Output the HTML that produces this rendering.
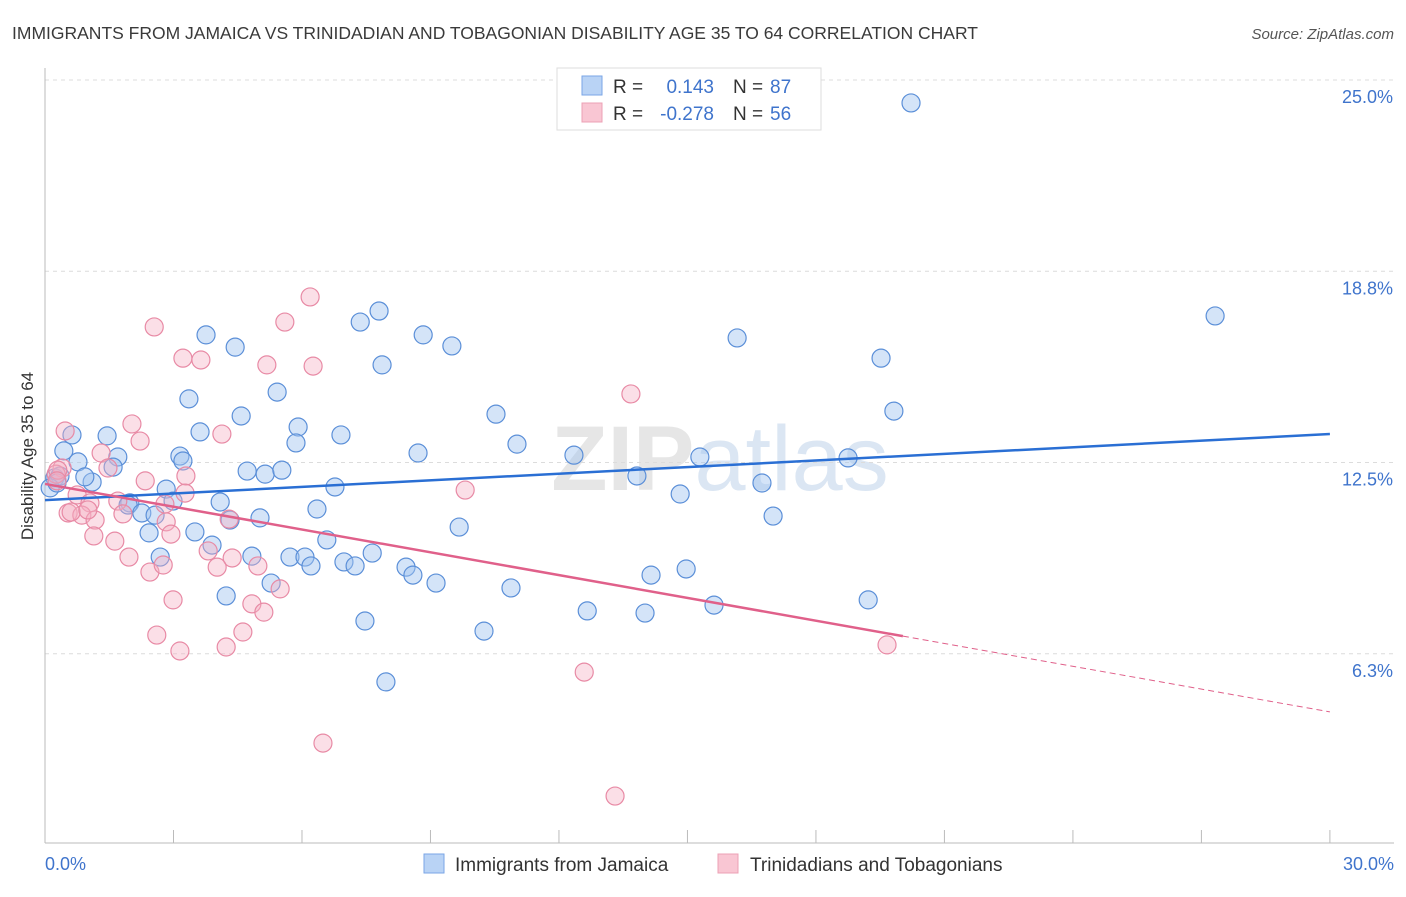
<!DOCTYPE html>
<html><head><meta charset="utf-8"><style>
body{margin:0;background:#fff;font-family:"Liberation Sans",sans-serif;}
svg text{font-family:"Liberation Sans",sans-serif;}
</style></head><body>
<svg width="1406" height="892" viewBox="0 0 1406 892" xmlns="http://www.w3.org/2000/svg">
<text x="12" y="39" font-size="17.5" fill="#3a3a3a">IMMIGRANTS FROM JAMAICA VS TRINIDADIAN AND TOBAGONIAN DISABILITY AGE 35 TO 64 CORRELATION CHART</text>
<text x="1394" y="39" font-size="15" fill="#555" font-style="italic" text-anchor="end">Source: ZipAtlas.com</text>
<text x="720" y="490" font-size="92" fill="#e6e6e6" text-anchor="middle" font-family="Liberation Serif" font-weight="bold">ZIP<tspan fill="#dbe6f3" font-family="Liberation Sans" font-weight="normal">atlas</tspan></text>
<g id="grid"></g><g id="axes"></g><g id="pts"></g><g id="lines"></g>
<text transform="translate(33,456) rotate(-90)" font-size="17" fill="#333" text-anchor="middle">Disability Age 35 to 64</text>
<g>
<rect x="557" y="68" width="264" height="62" fill="#fff" stroke="#ddd"/>
<rect x="582" y="76" width="20" height="19" fill="#b9d3f5" stroke="#7aa6e6"/>
<rect x="582" y="103" width="20" height="19" fill="#f9c6d3" stroke="#eca0b5"/>
<text x="613" y="93" font-size="19" fill="#333">R =</text>
<text x="714" y="93" font-size="19" fill="#3f74cc" text-anchor="end">0.143</text>
<text x="733" y="93" font-size="19" fill="#333">N =</text>
<text x="770" y="93" font-size="19" fill="#3f74cc">87</text>
<text x="613" y="120" font-size="19" fill="#333">R =</text>
<text x="714" y="120" font-size="19" fill="#3f74cc" text-anchor="end">-0.278</text>
<text x="733" y="120" font-size="19" fill="#333">N =</text>
<text x="770" y="120" font-size="19" fill="#3f74cc">56</text>
</g>
<g>
<rect x="424" y="854" width="20" height="19" fill="#b9d3f5" stroke="#7aa6e6"/>
<text x="455" y="871" font-size="19" fill="#333">Immigrants from Jamaica</text>
<rect x="718" y="854" width="20" height="19" fill="#f9c6d3" stroke="#eca0b5"/>
<text x="750" y="871" font-size="19" fill="#333">Trinidadians and Tobagonians</text>
</g>
<text x="45" y="870" font-size="18" fill="#3f74cc">0.0%</text>
<text x="1394" y="870" font-size="18" fill="#3f74cc" text-anchor="end">30.0%</text>
</svg>
<script>
const yTicks=[25.0,18.75,12.5,6.25];
const yTickLabels=["25.0%","18.8%","12.5%","6.3%"];
const xTicks=[0,3,6,9,12,15,18,21,24,27,30];
const blueX=[20.22,27.32,19.52,19.82,16.16,7.80,7.36,8.83,9.50,7.87,3.76,4.44,5.42,3.36,4.58,5.91,10.53,6.91,3.62,1.45,0.63,5.86,11.02,8.71,12.35,15.29,18.75,0.44,3.15,3.22,1.70,0.77,1.59,4.72,5.14,5.53,13.82,16.74,6.77,2.83,14.83,1.10,0.93,0.23,0.35,0.12,0.28,4.09,1.98,2.99,1.94,6.35,2.26,2.57,9.67,17.00,5.02,4.32,2.43,3.50,6.58,3.90,4.83,5.72,6.07,6.21,6.98,7.24,7.64,2.69,8.43,8.59,9.13,5.28,10.88,14.15,14.97,4.23,12.66,14.01,15.62,19.22,7.47,10.25,7.96];
const blueY=[24.25,17.29,15.91,14.18,16.57,17.45,17.09,16.67,16.31,15.69,16.67,16.27,14.80,14.58,14.02,13.66,14.08,13.40,13.50,13.37,13.40,13.14,13.10,12.81,12.74,12.68,12.65,12.88,12.71,12.55,12.68,12.52,12.35,12.22,12.12,12.25,12.06,11.83,11.70,11.63,11.47,11.86,12.03,12.00,12.06,11.67,11.83,11.21,11.18,11.24,11.11,10.98,10.85,10.78,10.39,10.75,10.69,10.62,10.20,10.23,9.97,9.80,9.44,9.41,9.41,9.12,9.25,9.12,9.54,9.41,9.08,8.82,8.56,8.56,8.40,8.82,9.02,8.14,7.65,7.58,7.84,8.01,7.32,6.99,5.33];
const pinkX=[6.19,2.55,5.60,3.22,3.64,5.18,6.26,13.68,0.47,2.03,2.22,4.13,1.31,2.34,3.29,1.47,0.40,0.26,0.30,9.81,0.75,1.05,1.70,1.82,2.83,4.30,0.54,0.86,1.17,0.61,2.80,1.14,1.63,2.94,3.81,4.37,1.96,4.97,4.02,2.45,2.76,5.49,4.83,5.11,2.99,2.61,4.62,4.23,3.15,19.66,12.59,6.49,13.31,0.28,1.00,3.27];
const pinkY=[17.91,16.93,17.09,15.91,15.85,15.69,15.65,14.74,13.53,13.76,13.20,13.43,12.81,11.90,12.06,12.32,12.32,12.12,12.25,11.60,11.44,11.18,11.24,10.82,10.56,10.65,10.85,10.78,10.62,10.88,11.14,10.10,9.93,10.16,9.61,9.38,9.41,9.12,9.08,8.92,9.15,8.37,7.88,7.61,8.01,6.86,6.96,6.47,6.34,6.54,5.65,3.33,1.60,11.90,10.95,11.50];
const blueTrend=[11.27,13.43];
const pinkTrend=[11.80,4.35];
const pinkSolidEnd=20.03;

const NS="http://www.w3.org/2000/svg";
const X=v=>45+v*42.83, Y=v=>80+(25-v)*30.6;
function mk(tag,attrs,parent){const e=document.createElementNS(NS,tag);for(const k in attrs)e.setAttribute(k,attrs[k]);document.getElementById(parent).appendChild(e);return e;}
yTicks.forEach((t,i)=>{
  const g=mk('line',{x1:45,x2:1394,y1:Y(t),y2:Y(t),stroke:'#dcdcdc','stroke-dasharray':'4,4'},'grid');
  
  
  const l=mk('text',{x:1393,y:Y(t)+23,'font-size':18,fill:'#3f74cc','text-anchor':'end'},'grid');
  l.textContent=yTickLabels[i];
  
  
});
const ya=mk('line',{x1:45,x2:45,y1:68,y2:843,stroke:'#bbb'},'axes');


const xa=mk('line',{x1:45,x2:1394,y1:843,y2:843,stroke:'#bbb'},'axes');


xTicks.forEach(t=>{
  const k=mk('line',{x1:X(t),x2:X(t),y1:830,y2:843,stroke:'#bbb'},'axes');
  
  
});
blueX.forEach((v,i)=>{
  const c=mk('circle',{cx:X(v),cy:Y(blueY[i]),r:9,fill:'rgba(160,196,240,0.45)',stroke:'#5b8fd8','stroke-width':1.2},'pts');
  
  
});
pinkX.forEach((v,i)=>{
  const c=mk('circle',{cx:X(v),cy:Y(pinkY[i]),r:9,fill:'rgba(246,176,196,0.4)',stroke:'#e88aa5','stroke-width':1.2},'pts');
  
  
});
const bt=mk('line',{x1:X(0),y1:Y(blueTrend[0]),x2:X(30),y2:Y(blueTrend[1]),stroke:'#2a6fd4','stroke-width':2.5},'lines');


const pAt=x=>pinkTrend[0]+(pinkTrend[1]-pinkTrend[0])*x/30;
const pt=mk('line',{x1:X(0),y1:Y(pinkTrend[0]),x2:X(pinkSolidEnd),y2:Y(pAt(pinkSolidEnd)),stroke:'#e0608a','stroke-width':2.5},'lines');


const pd=mk('line',{x1:X(pinkSolidEnd),y1:Y(pAt(pinkSolidEnd)),x2:X(30),y2:Y(pinkTrend[1]),stroke:'#e0608a','stroke-width':1,'stroke-dasharray':'6,4'},'lines');


</script>
</body></html>
